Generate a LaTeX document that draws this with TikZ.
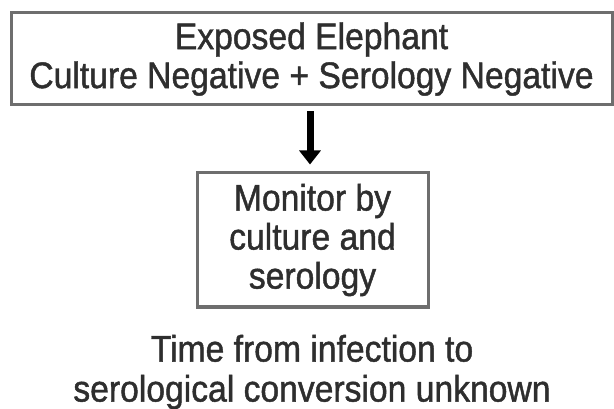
\documentclass[tikz,border=0pt]{standalone}
\usepackage{fontspec}
\setmainfont{Liberation Sans}
\newfontfamily\diagfont[FakeStretch=0.91,FakeBold=1.2]{Liberation Sans}
\usetikzlibrary{arrows.meta}
\definecolor{boxgray}{HTML}{6E6E6E}
\definecolor{txt}{HTML}{2E2E2E}
\tikzset{
  flowbox/.style={draw=boxgray, line width=3pt, align=center, inner sep=0pt,
    text=txt, font=\diagfont\fontsize{37}{39}\selectfont},
  plaintext/.style={align=center, inner sep=0pt, text=txt,
    font=\diagfont\fontsize{37}{40}\selectfont},
  bigarrow/.style={line width=7pt, -{Triangle[width=21pt,length=14pt]}}
}
\begin{document}
\begin{tikzpicture}[x=1pt,y=-1pt]
\useasboundingbox (0,0) rectangle (614,409);
\node[flowbox, minimum width=601pt, minimum height=92pt] (top) at (311.5,59)
  {Exposed Elephant\\Culture Negative + Serology Negative};
\node[flowbox, minimum width=231pt, minimum height=134pt] (mon) at (312.5,240)
  {Monitor by\\culture and\\serology};
\node[plaintext] (note) at (312,372)
  {Time from infection to\\serological conversion unknown};
\draw[bigarrow, shorten <=5pt, shorten >=7pt] (top.south -| 310,0) -- (mon.north -| 310,0);
\end{tikzpicture}
\end{document}
